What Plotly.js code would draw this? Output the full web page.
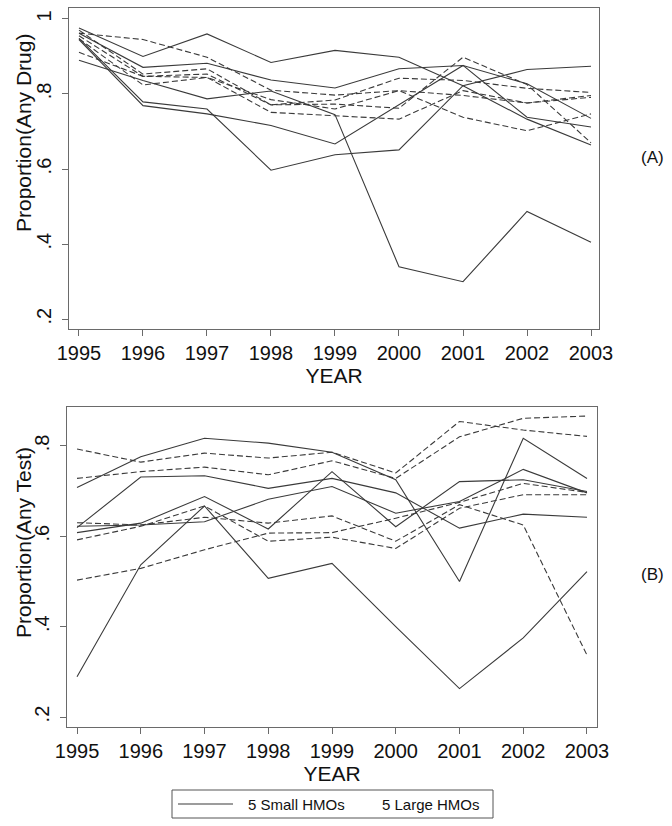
<!DOCTYPE html>
<html>
<head>
<meta charset="utf-8">
<script src="https://cdn.plot.ly/plotly-3.0.1.min.js"></script>
<style>html,body{margin:0;padding:0;background:#fff;}#chart{width:672px;height:826px;}</style>
</head>
<body>
<div id="chart"></div>
<script>
// ---------- data ----------
const years = [1995, 1996, 1997, 1998, 1999, 2000, 2001, 2002, 2003];
const yearLabels = ["1995", "1996", "1997", "1998", "1999", "2000", "2001", "2002", "2003"];

// Panel A: Proportion(Any Drug)
const drugSmall1 = [0.976, 0.900, 0.960, 0.884, 0.916, 0.898, 0.822, 0.733, 0.664];
const drugSmall2 = [0.962, 0.871, 0.882, 0.837, 0.816, 0.867, 0.876, 0.827, 0.735];
const drugSmall3 = [0.890, 0.836, 0.787, 0.808, 0.745, 0.340, 0.300, 0.487, 0.405];
const drugSmall4 = [0.945, 0.769, 0.747, 0.716, 0.667, 0.771, 0.876, 0.738, 0.712];
const drugSmall5 = [0.948, 0.779, 0.760, 0.597, 0.638, 0.651, 0.822, 0.865, 0.874];

const drugLarge1 = [0.962, 0.945, 0.898, 0.810, 0.797, 0.809, 0.796, 0.776, 0.791];
const drugLarge2 = [0.970, 0.853, 0.867, 0.771, 0.784, 0.842, 0.836, 0.815, 0.804];
const drugLarge3 = [0.955, 0.847, 0.853, 0.771, 0.773, 0.762, 0.898, 0.825, 0.670];
const drugLarge4 = [0.947, 0.824, 0.844, 0.751, 0.742, 0.733, 0.809, 0.776, 0.796];
const drugLarge5 = [0.911, 0.847, 0.844, 0.785, 0.760, 0.809, 0.738, 0.702, 0.747];

// Panel B: Proportion(Any Test)
const testSmall1 = [0.708, 0.776, 0.817, 0.806, 0.786, 0.725, 0.500, 0.817, 0.728];
const testSmall2 = [0.619, 0.731, 0.734, 0.706, 0.728, 0.696, 0.618, 0.649, 0.642];
const testSmall3 = [0.608, 0.629, 0.688, 0.616, 0.743, 0.621, 0.721, 0.725, 0.699];
const testSmall4 = [0.622, 0.625, 0.632, 0.682, 0.710, 0.651, 0.677, 0.748, 0.696];
const testSmall5 = [0.289, 0.537, 0.667, 0.507, 0.540, 0.400, 0.263, 0.375, 0.522];

const testLarge1 = [0.793, 0.764, 0.784, 0.773, 0.786, 0.740, 0.854, 0.835, 0.821];
const testLarge2 = [0.728, 0.743, 0.753, 0.736, 0.767, 0.728, 0.820, 0.861, 0.866];
const testLarge3 = [0.630, 0.625, 0.642, 0.629, 0.645, 0.589, 0.670, 0.625, 0.337];
const testLarge4 = [0.592, 0.622, 0.667, 0.589, 0.598, 0.573, 0.662, 0.692, 0.692];
const testLarge5 = [0.503, 0.529, 0.570, 0.607, 0.608, 0.640, 0.675, 0.717, 0.697];

const yTickValsA = [0.2, 0.4, 0.6, 0.8, 1];
const yTickTextA = [".2", ".4", ".6", ".8", "1"];
const yTickValsB = [0.2, 0.4, 0.6, 0.8];
const yTickTextB = [".2", ".4", ".6", ".8"];

const legendSmall = "5 Small HMOs";
const legendLarge = "5 Large HMOs";

// ---------- traces ----------
const LINE_COLOR = "#3a3a3a";
function mk(y, dashed, xa, ya) {
  return {
    type: "scatter", mode: "lines", x: years, y: y,
    xaxis: xa, yaxis: ya, showlegend: false, hoverinfo: "skip",
    line: {color: LINE_COLOR, width: 1.1, dash: dashed ? "6px,3px" : "solid"}
  };
}
const traces = [];
[drugSmall1, drugSmall2, drugSmall3, drugSmall4, drugSmall5].forEach(s => traces.push(mk(s, false, "x", "y")));
[drugLarge1, drugLarge2, drugLarge3, drugLarge4, drugLarge5].forEach(s => traces.push(mk(s, true, "x", "y")));
[testSmall1, testSmall2, testSmall3, testSmall4, testSmall5].forEach(s => traces.push(mk(s, false, "x2", "y2")));
[testLarge1, testLarge2, testLarge3, testLarge4, testLarge5].forEach(s => traces.push(mk(s, true, "x2", "y2")));

// ---------- layout ----------
const W = 672, H = 826;
const FONT = "Liberation Sans, Arial, Helvetica, sans-serif";
const FRAME = "#6a6a6a";
const px = v => v / W;
const py = v => 1 - v / H;

function xaxisCfg(l, r, rng) {
  return {
    domain: [px(l), px(r)], range: rng,
    tickmode: "array", tickvals: years, ticktext: yearLabels,
    ticks: "outside", ticklen: 6, tickwidth: 1, tickcolor: FRAME,
    showline: true, mirror: true, linecolor: FRAME, linewidth: 1,
    showgrid: false, zeroline: false,
    tickfont: {family: FONT, size: 20, color: "#111"},
    title: {text: "YEAR", font: {family: FONT, size: 21, color: "#111"}, standoff: 0},
    fixedrange: true
  };
}
function yaxisCfg(top, bottom, rng, tv, tt) {
  return {
    domain: [py(bottom), py(top)], range: rng,
    tickmode: "array", tickvals: tv, ticktext: tt, tickangle: -90,
    ticks: "outside", ticklen: 6, tickwidth: 1, tickcolor: FRAME,
    ticklabelstandoff: 3,
    showline: true, mirror: true, linecolor: FRAME, linewidth: 1,
    showgrid: false, zeroline: false,
    tickfont: {family: FONT, size: 20, color: "#111"},
    fixedrange: true
  };
}

// legend drawn as a framed key below the panels
const legBox = {l: 172, r: 493, t: 790, b: 818};
const legLineY = 804;

const layout = {
  width: W, height: H,
  margin: {l: 0, r: 0, t: 0, b: 0},
  paper_bgcolor: "#fff", plot_bgcolor: "#fff",
  font: {family: FONT, color: "#111"},
  showlegend: false,
  xaxis: Object.assign(xaxisCfg(69, 599, [1994.844, 2003.125]), {anchor: "y"}),
  yaxis: Object.assign(yaxisCfg(8, 329, [0.174, 1.029], yTickValsA, yTickTextA), {anchor: "x"}),
  xaxis2: Object.assign(xaxisCfg(67, 597, [1994.843, 2003.157]), {anchor: "y2"}),
  yaxis2: Object.assign(yaxisCfg(407, 727, [0.178, 0.886], yTickValsB, yTickTextB), {anchor: "x2"}),
  shapes: [
    {type: "rect", xref: "paper", yref: "paper",
     x0: px(legBox.l), x1: px(legBox.r), y0: py(legBox.b), y1: py(legBox.t),
     line: {color: "#555", width: 1}, fillcolor: "#fff"},
    {type: "line", xref: "paper", yref: "paper",
     x0: px(178), x1: px(233), y0: py(legLineY), y1: py(legLineY),
     line: {color: LINE_COLOR, width: 1.1}}
  ],
  annotations: [
    {text: "Proportion(Any Drug)", textangle: -90, xref: "paper", yref: "paper",
     x: px(23), y: py(133), xanchor: "center", yanchor: "middle", showarrow: false,
     font: {family: FONT, size: 21, color: "#111"}},
    {text: "Proportion(Any Test)", textangle: -90, xref: "paper", yref: "paper",
     x: px(23), y: py(543), xanchor: "center", yanchor: "middle", showarrow: false,
     font: {family: FONT, size: 21, color: "#111"}},
    {text: "(A)", xref: "paper", yref: "paper", x: px(652), y: py(157),
     xanchor: "center", yanchor: "middle", showarrow: false,
     font: {family: FONT, size: 17, color: "#111"}},
    {text: "(B)", xref: "paper", yref: "paper", x: px(652), y: py(574),
     xanchor: "center", yanchor: "middle", showarrow: false,
     font: {family: FONT, size: 17, color: "#111"}},
    {text: legendSmall, xref: "paper", yref: "paper", x: px(246), y: py(legLineY),
     xanchor: "left", yanchor: "middle", showarrow: false,
     font: {family: FONT, size: 15, color: "#111"}},
    {text: legendLarge, xref: "paper", yref: "paper", x: px(380), y: py(legLineY),
     xanchor: "left", yanchor: "middle", showarrow: false,
     font: {family: FONT, size: 15, color: "#111"}}
  ]
};

Plotly.newPlot("chart", traces, layout, {staticPlot: true, displayModeBar: false});
</script>
</body>
</html>
